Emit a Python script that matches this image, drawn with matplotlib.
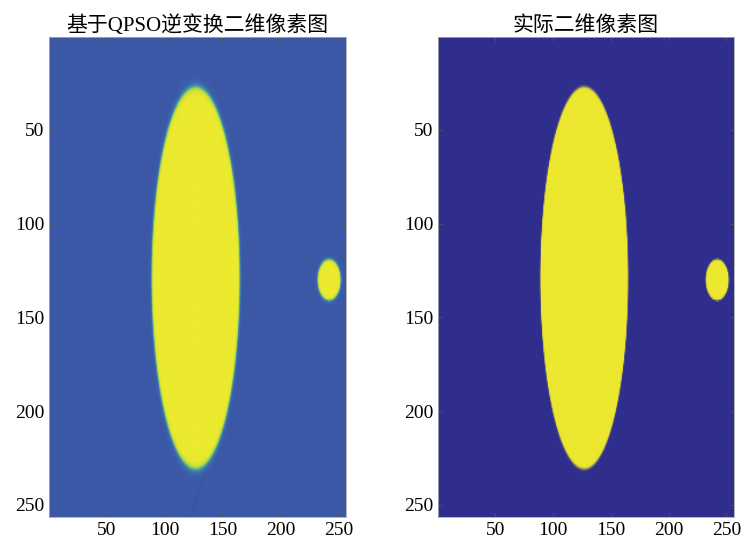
import numpy as np
import matplotlib.pyplot as plt
from matplotlib import colors

plt.rcParams['font.family'] = ['Liberation Serif', 'Noto Sans CJK SC']

# image size and shapes (pixel units)
n_pix = 256
big_ellipse = (127, 129, 38, 102)     # cx, cy, rx, ry
small_ellipse = (242, 130, 10, 11)
streak = (123, 256, 142, 221)         # faint reconstruction artifact x0,y0,x1,y1
edge_blur = 0.9

titles = ['基于QPSO逆变换二维像素图', '实际二维像素图']
ticks = [50, 100, 150, 200, 250]


def ellipse_dist(xx, yy, e):
    cx, cy, rx, ry = e
    return np.sqrt(((xx - cx) / rx) ** 2 + ((yy - cy) / ry) ** 2)


def soft(e, blur):
    d = (ellipse_dist(xx, yy, e) - 1) * min(e[2], e[3])
    return 1 / (1 + np.exp(d / blur * 2))


yy, xx = np.mgrid[1:n_pix + 1, 1:n_pix + 1]

# actual image: near-hard mask
actual = np.maximum(soft(big_ellipse, 0.25), soft(small_ellipse, 0.25))

# reconstructed image: softened edges plus a faint streak
recon = np.maximum(soft(big_ellipse, edge_blur), soft(small_ellipse, edge_blur))
x0, y0, x1, y1 = streak
t = np.clip(((xx - x0) * (x1 - x0) + (yy - y0) * (y1 - y0)) /
            ((x1 - x0) ** 2 + (y1 - y0) ** 2), 0, 1)
dline = np.hypot(xx - (x0 + t * (x1 - x0)), yy - (y0 + t * (y1 - y0)))
recon = recon - 0.03 * np.exp(-(dline / 0.7) ** 2) * (1 - recon)

cmap_recon = colors.LinearSegmentedColormap.from_list(
    'recon', [(0, '#2f4a9e'), (0.06, '#3d5aa8'), (0.4, '#3a8fb0'),
              (0.7, '#a8d84a'), (1, '#ecea2e')])
cmap_actual = colors.LinearSegmentedColormap.from_list(
    'actual', ['#302e8d', '#ece72f'])

fig = plt.figure(figsize=(7.41, 5.42), dpi=100)
W, H = 741, 542
ax1 = fig.add_axes([49 / W, 1 - 517 / H, 297 / W, 480 / H])
ax2 = fig.add_axes([438 / W, 1 - 517 / H, 296 / W, 480 / H])

ax1.imshow(recon, cmap=cmap_recon, vmin=-0.06, vmax=1, aspect='auto',
           extent=(0.5, n_pix + 0.5, n_pix + 0.5, 0.5), interpolation='bilinear')
ax2.imshow(actual, cmap=cmap_actual, vmin=0, vmax=1, aspect='auto',
           extent=(0.5, n_pix + 0.5, n_pix + 0.5, 0.5), interpolation='bilinear')

for ax, title in zip([ax1, ax2], titles):
    ax.set_title(title, fontsize=15, pad=4)
    ax.set_xticks(ticks)
    ax.set_yticks(ticks)
    ax.tick_params(direction='in', length=3, width=0.6, labelsize=14,
                   top=True, right=True, color='#555555')
    for s in ax.spines.values():
        s.set_linewidth(0.6)
        s.set_color('#aaaaaa')

fig.savefig('out.png', dpi=100)
